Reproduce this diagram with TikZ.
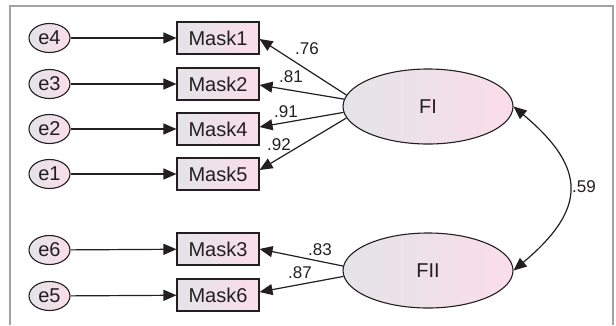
\documentclass[tikz,border=0pt]{standalone}
\usepackage{fontspec}
\setmainfont{Liberation Sans}
\usetikzlibrary{arrows.meta,shapes.geometric}

\definecolor{ink}{HTML}{231F20}
\definecolor{framegray}{HTML}{A3A3A3}
\definecolor{shadeL}{HTML}{E4E4E8}
\definecolor{shadeR}{HTML}{FADDE8}

\tikzset{
  fillshade/.style={left color=shadeL, right color=shadeR, draw=ink, line width=1.1pt},
  errnode/.style={fillshade, ellipse, minimum width=41pt, minimum height=29pt, inner sep=0pt,
                  font=\fontsize{20}{22}\selectfont, text=ink},
  obsnode/.style={fillshade, rectangle, minimum width=82pt, minimum height=32pt, inner sep=0pt,
                  font=\fontsize{20}{22}\selectfont, text=ink},
  latnode/.style={fillshade, ellipse, minimum width=170pt, minimum height=75pt, inner sep=0pt,
                  font=\fontsize{20}{22}\selectfont, text=ink},
  coef/.style={font=\fontsize{17}{19}\selectfont, text=ink, inner sep=0pt},
  path/.style={draw=ink, line width=1.2pt, -{Triangle[length=13pt,width=11pt]}},
  covpath/.style={draw=ink, line width=1.2pt,
                  {Triangle[length=13pt,width=11pt]}-{Triangle[length=13pt,width=11pt]}}
}

\begin{document}
\begin{tikzpicture}[x=1pt,y=-1pt]
  \useasboundingbox (0,0) rectangle (616,325);
  \fill[white] (0,0) rectangle (616,325);
  % open frame
  \draw[framegray, line width=1.2pt] (10,325) -- (10,6) -- (613,6) -- (613,325);

  % error terms
  \node[errnode] (e4) at (49.5,38)  {e4};
  \node[errnode] (e3) at (49.5,84)  {e3};
  \node[errnode] (e2) at (49.5,129) {e2};
  \node[errnode] (e1) at (49.5,174) {e1};
  \node[errnode] (e6) at (49.5,250) {e6};
  \node[errnode] (e5) at (49.5,296) {e5};

  % observed indicators
  \node[obsnode] (m1) at (218,38)  {Mask1};
  \node[obsnode] (m2) at (218,84)  {Mask2};
  \node[obsnode] (m4) at (218,129) {Mask4};
  \node[obsnode] (m5) at (218,174) {Mask5};
  \node[obsnode] (m3) at (218,249) {Mask3};
  \node[obsnode] (m6) at (218,295) {Mask6};

  % latent factors
  \node[latnode] (FI)  at (428,106.5) {FI};
  \node[latnode] (FII) at (428,270.5) {FII};

  % error paths
  \foreach \e/\m in {e4/m1,e3/m2,e2/m4,e1/m5,e6/m3,e5/m6}
    \draw[path] (\e) -- (\m);

  % factor loadings
  \draw[path] (FI.172) -- ([yshift=-1pt]m1.east);
  \draw[path] (FI.175) -- ([yshift=-1pt]m2.east);
  \draw[path] (FI.184.5) -- ([yshift=2pt]m4.east);
  \draw[path] (FI.188) -- ([yshift=4pt]m5.east);
  \draw[path] (FII.177.5) -- (m3.east);
  \draw[path] (FII.184) -- ([yshift=3pt]m6.east);

  \node[coef] (l1) at (307,49)  {.76};
  \node[coef] (l2) at (291,77)  {.81};
  \node[coef] (l4) at (286,112) {.91};
  \node[coef] (l5) at (279,145) {.92};
  \node[coef] (l3) at (320,250) {.83};
  \node[coef] (l6) at (300,273) {.87};

  % factor covariance
  \draw[covpath] (FI.east) to[out=-40,in=40,looseness=1.5] (FII.east);
  \node[coef, anchor=west] (cov) at (572,187) {.59};
\end{tikzpicture}
\end{document}
